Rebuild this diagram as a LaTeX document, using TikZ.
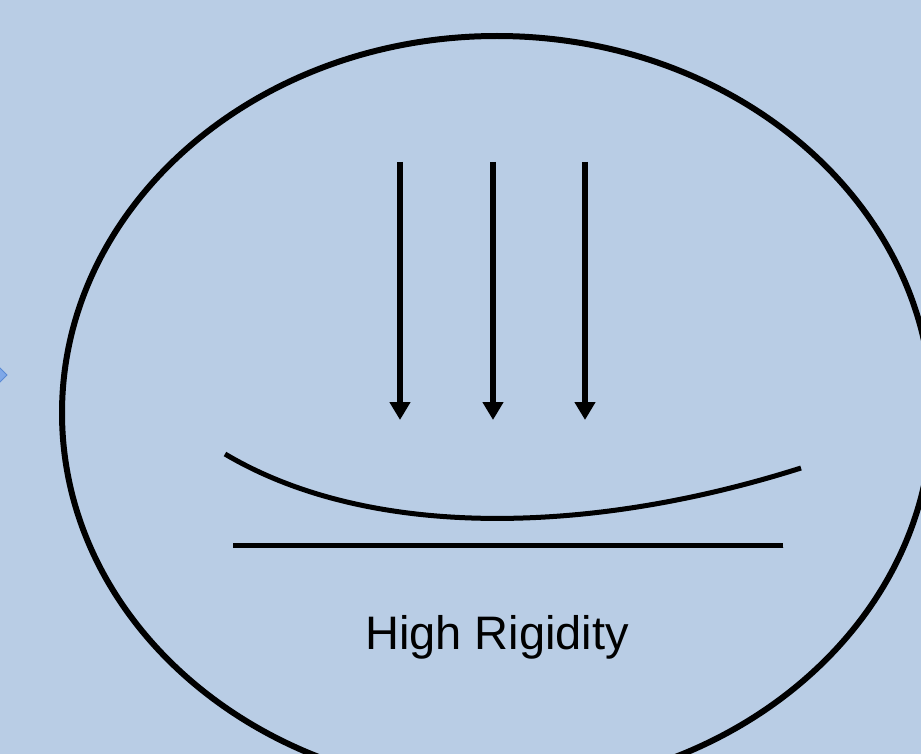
\documentclass[tikz,border=0pt]{standalone}
\usepackage{fontspec}
\setmainfont{Liberation Sans}
\usetikzlibrary{arrows.meta}
\definecolor{bg}{HTML}{B9CDE5}
\definecolor{tipfill}{HTML}{7FA8E8}
\definecolor{tipdraw}{HTML}{5A8AD4}
\tikzset{
  shade line/.style={preaction={draw, black, opacity=0.18, transform canvas={shift={(1.2pt,-1.8pt)}}}},
  force/.style={line width=5.5pt, -{Triangle[width=20pt,length=18pt]}},
  beam/.style={line width=5pt, shade line},
  rim/.style={line width=6pt, shade line},
}
\begin{document}
\begin{tikzpicture}[x=1pt,y=-1pt]
\fill[bg] (0,0) rectangle (921,754);
\useasboundingbox (0,0) rectangle (921,754);
\clip (0,0) rectangle (921,754);
% blue arrow tip cut off at left edge
\filldraw[fill=tipfill,draw=tipdraw,line width=1pt] (-10,358) -- (7,375) -- (-10,392) -- cycle;
% outer ellipse
\draw[rim] (497,413) ellipse [x radius=435, y radius=377];
% load arrows
\coordinate (a1s) at (400,162); \coordinate (a1e) at (400,420);
\coordinate (a2s) at (493,162); \coordinate (a2e) at (493,420);
\coordinate (a3s) at (585,162); \coordinate (a3e) at (585,420);
\draw[force] (a1s) -- (a1e);
\draw[force] (a2s) -- (a2e);
\draw[force] (a3s) -- (a3e);
% bent beam
\coordinate (bl) at (225,454); \coordinate (br) at (801,468);
\draw[beam] (bl) .. controls (370,540) and (590,535) .. (br);
% straight reference line
\coordinate (sl) at (233,545); \coordinate (sr) at (783,545);
\draw[beam] (sl) -- (sr);
% label
\node[font=\fontsize{47}{54}\selectfont, anchor=base, inner sep=0pt] (lbl) at (497,649) {High Rigidity};
\end{tikzpicture}
\end{document}
